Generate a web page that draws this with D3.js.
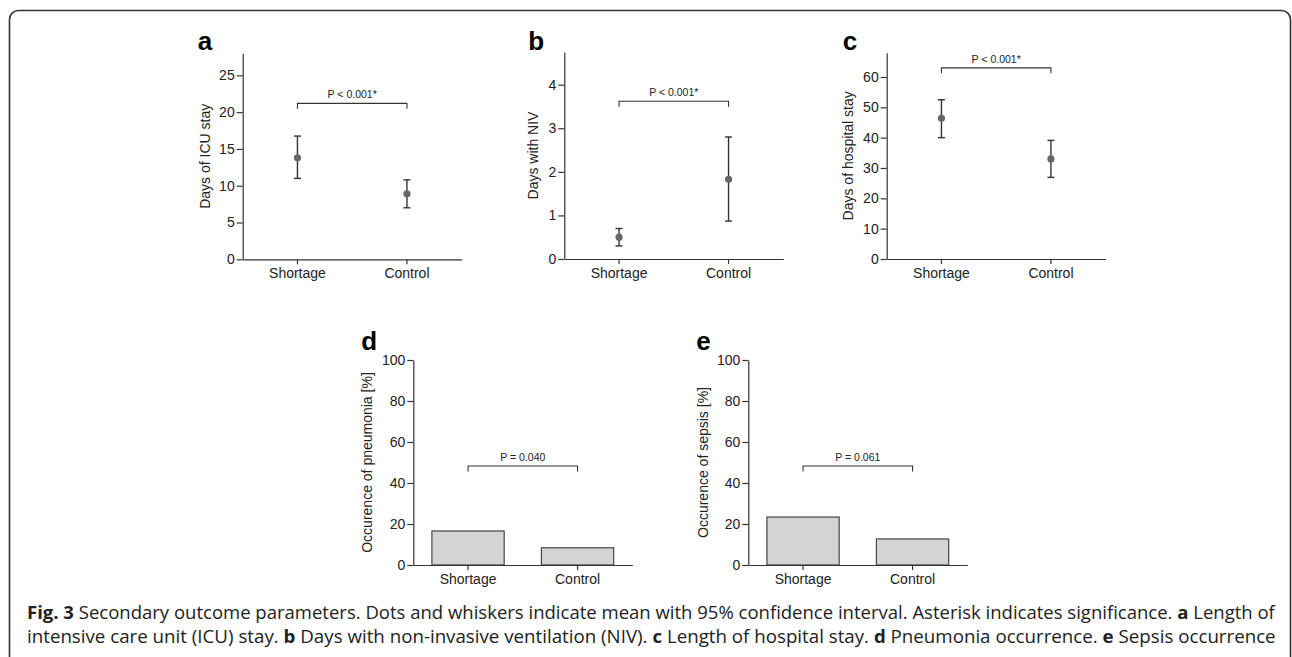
<!DOCTYPE html>
<html>
<head>
<meta charset="utf-8">
<script src="https://cdn.jsdelivr.net/npm/d3@7"></script>
<style>
  body { margin: 0; background: #fff; }
  svg { display: block; }
  .tick text { font-family: "Liberation Sans", Arial, sans-serif; font-size: 14px; fill: #222; }
  .axis path, .axis line { stroke: #333; stroke-width: 1.2; }
</style>
</head>
<body>
<svg id="fig" width="1292" height="657"></svg>
<script>
'use strict';

// groups on the x axis
var groups = ['Shortage', 'Control'];

// a: ICU stay (mean, 95% CI)
var icuMean = [13.8, 8.9];
var icuLow = [11.0, 7.0];
var icuHigh = [16.75, 10.8];
var icuTicks = [0, 5, 10, 15, 20, 25];

// b: days with NIV
var nivMean = [0.5, 1.83];
var nivLow = [0.3, 0.87];
var nivHigh = [0.7, 2.8];
var nivTicks = [0, 1, 2, 3, 4];

// c: hospital stay
var hospMean = [46.4, 33.0];
var hospLow = [40.0, 26.9];
var hospHigh = [52.5, 39.1];
var hospTicks = [0, 10, 20, 30, 40, 50, 60];

// d, e: occurrence in percent
var pneumonia = [16.6, 8.4];
var sepsis = [23.4, 12.7];
var pctTicks = [0, 20, 40, 60, 80, 100];

// p values and bracket levels (data units)
var pLabels = ['P < 0.001*', 'P < 0.001*', 'P < 0.001*', 'P = 0.040', 'P = 0.061'];
var bracketLevel = [21.2, 3.62, 63, 48.3, 48.3];

var svg = d3.select('#fig');
var font = '"Liberation Sans", Arial, sans-serif';

// frame around the figure
svg.append('rect')
  .attr('x', 9.5).attr('y', 10.5)
  .attr('width', 1281).attr('height', 700)
  .attr('rx', 9)
  .style('fill', 'none').style('stroke', '#333').style('stroke-width', 1.6);

// one panel: dots with whiskers, or bars
function panel(opt) {
  var g = svg.append('g');
  var x = d3.scaleBand().domain(groups).range([opt.x0, opt.x0 + 219]);
  var y = d3.scaleLinear().domain([0, opt.yMax]).range([opt.y0, opt.yTop]);
  var cx = function (d) { return x(d) + x.bandwidth() / 2; };

  if (opt.type === 'bar') {
    var bw = x.bandwidth() * 0.66;
    g.selectAll('rect.bar').data(groups).enter().append('rect')
      .attr('class', 'bar')
      .attr('x', function (d) { return cx(d) - bw / 2; })
      .attr('width', bw)
      .attr('y', function (d, i) { return y(opt.values[i]); })
      .attr('height', function (d, i) { return y(0) - y(opt.values[i]); })
      .style('fill', '#d4d4d4').style('stroke', '#444').style('stroke-width', 1.2);
  } else {
    var whisker = g.selectAll('g.whisker').data(groups).enter().append('g').attr('class', 'whisker');
    whisker.append('line')
      .attr('x1', cx).attr('x2', cx)
      .attr('y1', function (d, i) { return y(opt.low[i]); })
      .attr('y2', function (d, i) { return y(opt.high[i]); });
    whisker.append('line')
      .attr('x1', function (d) { return cx(d) - 3.5; }).attr('x2', function (d) { return cx(d) + 3.5; })
      .attr('y1', function (d, i) { return y(opt.low[i]); })
      .attr('y2', function (d, i) { return y(opt.low[i]); });
    whisker.append('line')
      .attr('x1', function (d) { return cx(d) - 3.5; }).attr('x2', function (d) { return cx(d) + 3.5; })
      .attr('y1', function (d, i) { return y(opt.high[i]); })
      .attr('y2', function (d, i) { return y(opt.high[i]); });
    whisker.selectAll('line').style('stroke', '#333').style('stroke-width', 1.4);
    whisker.append('circle')
      .attr('cx', cx)
      .attr('cy', function (d, i) { return y(opt.mean[i]); })
      .attr('r', 3.6)
      .style('fill', '#666');
  }

  // axes
  g.append('g').attr('class', 'axis')
    .attr('transform', 'translate(' + opt.x0 + ',0)')
    .call(d3.axisLeft(y).tickValues(opt.ticks).tickFormat(d3.format('d'))
      .tickSize(6).tickSizeOuter(0).tickPadding(2));
  g.append('g').attr('class', 'axis')
    .attr('transform', 'translate(0,' + opt.y0 + ')')
    .call(d3.axisBottom(x).tickSize(5).tickSizeOuter(0).tickPadding(4));

  // significance bracket
  var by = y(opt.bracket);
  var xa = cx(groups[0]), xb = cx(groups[1]);
  g.append('path')
    .attr('d', 'M' + xa + ',' + (by + 5.5) + 'V' + by + 'H' + xb + 'V' + (by + 5.5))
    .style('fill', 'none').style('stroke', '#333').style('stroke-width', 1.1);
  g.append('text')
    .attr('x', (xa + xb) / 2).attr('y', by - 5)
    .attr('text-anchor', 'middle')
    .style('font-family', font).style('font-size', '10.5px').style('fill', '#222')
    .text(opt.p);

  // y label
  g.append('text')
    .attr('transform', 'translate(' + (opt.x0 + opt.labelDx) + ',' + ((opt.y0 + opt.yTop) / 2) + ') rotate(-90)')
    .attr('text-anchor', 'middle')
    .attr('dy', '0.35em')
    .style('font-family', font).style('font-size', '14px').style('fill', '#222')
    .text(opt.label);

  // panel letter
  g.append('text')
    .attr('x', opt.x0 + opt.letterDx).attr('y', opt.letterY)
    .style('font-family', font).style('font-size', '26px').style('font-weight', 'bold').style('fill', '#000')
    .text(opt.letter);
}

panel({ type: 'dot', x0: 242.7, y0: 259.3, yTop: 53.3, yMax: 28, ticks: icuTicks,
  mean: icuMean, low: icuLow, high: icuHigh, bracket: bracketLevel[0], p: pLabels[0],
  label: 'Days of ICU stay', labelDx: -38, letter: 'a', letterDx: -45, letterY: 50 });
panel({ type: 'dot', x0: 564.3, y0: 259, yTop: 52, yMax: 4.75, ticks: nivTicks,
  mean: nivMean, low: nivLow, high: nivHigh, bracket: bracketLevel[1], p: pLabels[1],
  label: 'Days with NIV', labelDx: -31, letter: 'b', letterDx: -36, letterY: 50 });
panel({ type: 'dot', x0: 886.7, y0: 259, yTop: 52.7, yMax: 68, ticks: hospTicks,
  mean: hospMean, low: hospLow, high: hospHigh, bracket: bracketLevel[2], p: pLabels[2],
  label: 'Days of hospital stay', labelDx: -39, letter: 'c', letterDx: -44, letterY: 50 });
panel({ type: 'bar', x0: 413.3, y0: 565, yTop: 360, yMax: 100, ticks: pctTicks,
  values: pneumonia, bracket: bracketLevel[3], p: pLabels[3],
  label: 'Occurence of pneumonia [%]', labelDx: -46.5, letter: 'd', letterDx: -52, letterY: 350 });
panel({ type: 'bar', x0: 748.3, y0: 565, yTop: 360, yMax: 100, ticks: pctTicks,
  values: sepsis, bracket: bracketLevel[4], p: pLabels[4],
  label: 'Occurence of sepsis [%]', labelDx: -45, letter: 'e', letterDx: -52, letterY: 350 });

// caption, two justified lines
var captionLines = [
  [['Fig. 3', true], [' Secondary outcome parameters. Dots and whiskers indicate mean with 95% confidence interval. Asterisk indicates significance. ', false], ['a', true], [' Length of', false]],
  [['intensive care unit (ICU) stay. ', false], ['b', true], [' Days with non-invasive ventilation (NIV). ', false], ['c', true], [' Length of hospital stay. ', false], ['d', true], [' Pneumonia occurrence. ', false], ['e', true], [' Sepsis occurrence', false]]
];
var capLeft = 27, capRight = 1276;
captionLines.forEach(function (parts, li) {
  var t = svg.append('text')
    .attr('y', 619 + li * 24.5)
    .style('font-family', '"Open Sans", sans-serif').style('font-size', '18px').style('fill', '#222')
    .attr('xml:space', 'preserve');
  parts.forEach(function (p) {
    t.append('tspan').text(p[0]).style('font-weight', p[1] ? 'bold' : 'normal');
  });
  var w = t.node().getComputedTextLength();
  var s = (capRight - capLeft) / w;
  t.attr('transform', 'translate(' + capLeft + ',0) scale(' + s + ',1)');
});
</script>
</body>
</html>
